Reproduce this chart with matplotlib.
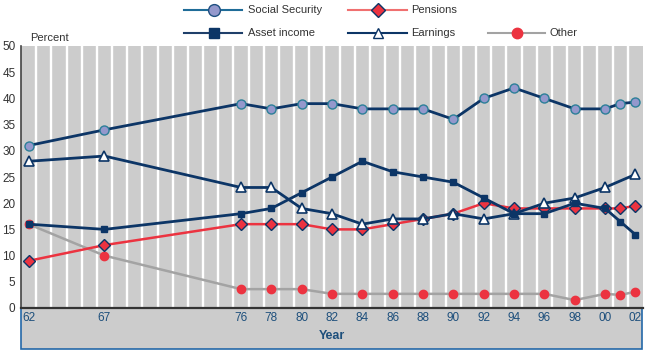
import matplotlib
matplotlib.use("Agg")
import matplotlib.pyplot as plt
from matplotlib.lines import Line2D
from matplotlib.patches import Rectangle

plt.rcParams['font.family'] = ['Liberation Sans', 'DejaVu Sans']

# data (percent of aggregate income), years as 62..102 (102 = 2002)
years = [62, 67, 76, 78, 80, 82, 84, 86, 88, 90, 92, 94, 96, 98, 100, 101, 102]
social_security = [31, 34, 39, 38, 39, 39, 38, 38, 38, 36, 40, 42, 40, 38, 38, 39, 39.3]
pensions = [9, 12, 16, 16, 16, 15, 15, 16, 17, 18, 20, 19, 19, 19, 19, 19, 19.5]
asset_income = [16, 15, 18, 19, 22, 25, 28, 26, 25, 24, 21, 18, 18, 20, 19, 16.5, 14]
other = [16, 10, 3.6, 3.6, 3.6, 2.7, 2.7, 2.7, 2.7, 2.7, 2.7, 2.7, 2.7, 1.5, 2.7, 2.5, 3.1]

earn_years = [62, 67, 76, 78, 80, 82, 84, 86, 88, 90, 92, 94, 96, 98, 100, 102]
earnings = [28, 29, 23, 23, 19, 18, 16, 17, 17, 18, 17, 18, 20, 21, 23, 25.5]

tick_years = [62, 67, 76, 78, 80, 82, 84, 86, 88, 90, 92, 94, 96, 98, 100, 102]
tick_labels = ['62', '67', '76', '78', '80', '82', '84', '86', '88', '90',
               '92', '94', '96', '98', '00', '02']

navy = '#0c3566'
teal = '#2b7f98'
red = '#ec3340'
gray_line = '#a3a3a3'
bg = '#cccccc'
label_blue = '#1d4f7c'

W, H = 650, 354
fig = plt.figure(figsize=(W / 100, H / 100), dpi=100)

def fx(px):
    return px / W

def fy(py):
    return 1 - py / H

# bottom band under the plot
band = Rectangle((fx(21), fy(349)), fx(642) - fx(21), fy(308) - fy(349),
                 transform=fig.transFigure, facecolor=bg, edgecolor='#2468a8',
                 linewidth=1.2, zorder=0)
fig.add_artist(band)

ax = fig.add_axes([fx(21), fy(308), fx(643) - fx(21), fy(46) - fy(308)])
ax.set_facecolor(bg)
ax.set_xlim(61.5, 102.5)
ax.set_ylim(0, 50)

# white vertical stripes between years
for x in range(62, 102):
    ax.axvline(x + 0.5, color='white', lw=1.7, zorder=1)

ax.plot(years, other, color=gray_line, lw=1.8, marker='o', ms=6,
        mfc=red, mec=red, zorder=3)
ax.plot(years, pensions, color=red, lw=1.8, marker='D', ms=6,
        mfc=red, mec=navy, mew=1, zorder=4)
ax.plot(earn_years, earnings, color=navy, lw=2, marker='^', ms=7,
        mfc='white', mec=navy, mew=1.2, zorder=5)
ax.plot(years, asset_income, color=navy, lw=2, marker='s', ms=5,
        mfc=navy, mec=navy, zorder=6)
ax.plot(years, social_security, color=navy, lw=2, marker='o', ms=6.5,
        mfc='#9498cc', mec=teal, mew=1, zorder=7)

for side in ['top', 'right']:
    ax.spines[side].set_visible(False)
ax.spines['left'].set_color('#444444')
ax.spines['bottom'].set_color('#333333')
ax.spines['bottom'].set_linewidth(1.6)
ax.spines['left'].set_linewidth(1.2)

ax.set_yticks(range(0, 51, 5))
ax.tick_params(axis='y', length=0, labelsize=8.5, labelcolor='#333333', pad=4)
ax.set_xticks(tick_years)
ax.set_xticklabels(tick_labels)
ax.tick_params(axis='x', length=0, labelsize=8.5, labelcolor=label_blue, pad=3)
ax.set_xlabel('Year', fontsize=9, fontweight='bold', color=label_blue, labelpad=4)

fig.text(fx(30), fy(38), 'Percent', fontsize=8, color='#333333', va='center')

# legend drawn by hand to match the two-row layout
def legend_item(x0, x1, xm, y, label, color, marker, ms, mfc, mec, tx):
    fig.add_artist(Line2D([fx(x0), fx(x1)], [fy(y), fy(y)], color=color, lw=1.5,
                          transform=fig.transFigure))
    fig.add_artist(Line2D([fx(xm)], [fy(y)], marker=marker, ms=ms, mfc=mfc,
                          mec=mec, mew=1, transform=fig.transFigure))
    fig.text(fx(tx), fy(y), label, fontsize=8, color='#333333', va='center')

legend_item(184, 242, 214, 10, 'Social Security', '#1f6c98', 'o', 8.5, '#9498cc', '#1f4f80', 248)
legend_item(348, 407, 378, 10, 'Pensions', '#f07070', 'D', 7.5, red, navy, 411)
legend_item(184, 242, 214, 33, 'Asset income', '#1f3f6a', 's', 6.5, navy, navy, 248)
legend_item(348, 407, 378, 33, 'Earnings', navy, '^', 7.5, 'white', navy, 411)
legend_item(488, 545, 517, 33, 'Other', gray_line, 'o', 7.5, red, red, 549)

fig.savefig('out.png', dpi=100)
